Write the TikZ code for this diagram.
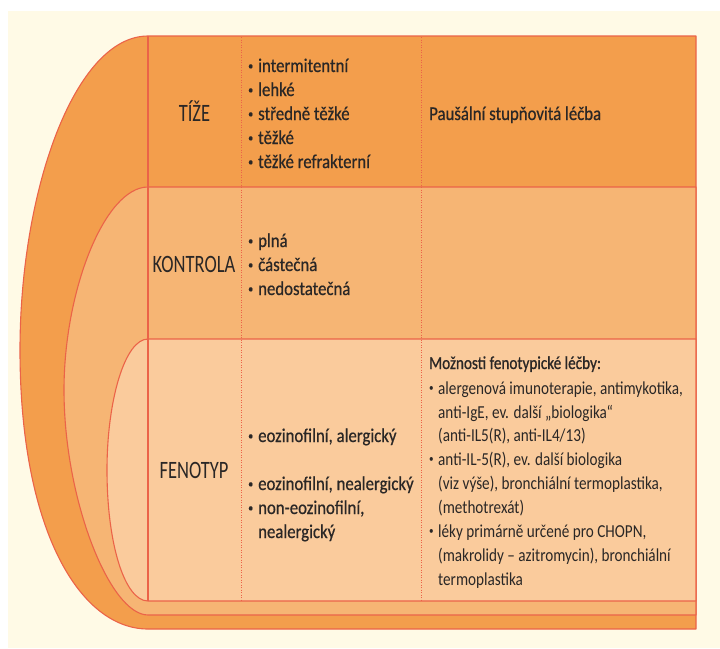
\documentclass[tikz,border=0pt]{standalone}
\usepackage{graphicx}
\usepackage{fontspec}
\setmainfont{Carlito}
\newfontfamily\fmid[FakeStretch=0.86,FakeBold=0.6]{Carlito}
\newfontfamily\fright[FakeStretch=0.83]{Carlito}
\newfontfamily\frightb[FakeStretch=0.83,FakeBold=0.8]{Carlito}
\newfontfamily\flab[FakeStretch=0.74]{Carlito}
\definecolor{cream}{HTML}{FFFAE6}
\definecolor{dark}{HTML}{F39E4C}
\definecolor{midc}{HTML}{F6B574}
\definecolor{light}{HTML}{FACB9C}
\definecolor{bordc}{HTML}{EB6348}
\definecolor{txt}{HTML}{2A2726}
\newcommand\bdot{\raisebox{0.25ex}{\scalebox{0.6}{•}}}
\newcommand\bmid{\makebox[10pt][l]{\bdot}}
\newcommand\brt{\makebox[9pt][l]{\bdot}}
\tikzset{
 band/.style={draw=bordc, line width=1.1pt, line join=round},
 dotln/.style={draw=bordc, line width=0.9pt, dash pattern=on 0.9pt off 1.6pt},
 lab/.style={font=\flab\fontsize{25}{26}\selectfont, text=txt, inner sep=0pt, anchor=base},
 midt/.style={font=\fmid\fontsize{19.5}{24}\selectfont, text=txt, inner sep=0pt, anchor=base west},
 rt/.style={font=\fright\fontsize{18.3}{24}\selectfont, text=txt, inner sep=0pt, anchor=base west},
 rtb/.style={font=\frightb\fontsize{18.3}{24}\selectfont, text=txt, inner sep=0pt, anchor=base west},
}
\begin{document}
\begin{tikzpicture}[x=1pt,y=-1pt]
\useasboundingbox (0,0) rectangle (720,648);
\fill[white] (0,0) rectangle (720,648);
\fill[cream] (8,11) rectangle (720,648);
% bands
\path[band, fill=dark] (696,36) -- (148,36) .. controls (75,36) and (20,190) .. (20,350)
  .. controls (20,530) and (80,629) .. (148,629) -- (696,629) -- cycle;
\path[band, fill=midc] (696,187) -- (148,187) .. controls (105,187) and (64,290) .. (64,390)
  .. controls (64,500) and (110,615) .. (148,615) -- (696,615) -- cycle;
\path[band, fill=light] (696,339) -- (148,339) .. controls (125,339) and (107,400) .. (107,470)
  .. controls (107,545) and (125,601) .. (148,601) -- (696,601) -- cycle;
\coordinate (c1t) at (148,36);
\coordinate (c1b) at (148,601);
\draw[band] (c1t) -- (c1b);
\coordinate (d1t) at (241,37);
\coordinate (d1b) at (241,600);
\coordinate (d2t) at (421,37);
\coordinate (d2b) at (421,600);
\draw[dotln] (d1t) -- (d1b);
\draw[dotln] (d2t) -- (d2b);
% labels
\node[lab] (tize) at (194.5,121) {TÍŽE};
\node[lab] (kontrola) at (194,272) {KONTROLA};
\node[lab] (fenotyp) at (194,478) {FENOTYP};
% row 1
\node[midt] (r1a) at (248,72) {\bmid intermitentní};
\node[midt] (r1b) at (248,96) {\bmid lehké};
\node[midt] (r1c) at (248,120) {\bmid středně těžké};
\node[midt] (r1d) at (248,144) {\bmid těžké};
\node[midt] (r1e) at (248,168) {\bmid těžké refrakterní};
\node[midt] (r1t) at (429,120) {Paušální stupňovitá léčba};
% row 2
\node[midt] (r2a) at (248,247) {\bmid plná};
\node[midt] (r2b) at (248,271) {\bmid částečná};
\node[midt] (r2c) at (248,295) {\bmid nedostatečná};
% row 3
\node[midt] (r3a) at (248,442) {\bmid eozinofilní, alergický};
\node[midt] (r3b) at (248,490) {\bmid eozinofilní, nealergický};
\node[midt] (r3c) at (248,514) {\bmid non-eozinofilní,};
\node[midt] (r3d) at (258,538) {nealergický};
% right column
\node[rtb] (h) at (429,369) {Možnosti fenotypické léčby:};
\node[rt] (t1) at (429,394) {\brt alergenová imunoterapie, antimykotika,};
\node[rt] (t2) at (438,418) {anti-IgE, ev. další „biologika“};
\node[rt] (t3) at (438,441) {(anti-IL5(R), anti-IL4/13)};
\node[rt] (t4) at (429,465) {\brt anti-IL-5(R), ev. další biologika};
\node[rt] (t5) at (438,489) {(viz výše), bronchiální termoplastika,};
\node[rt] (t6) at (438,513) {(methotrexát)};
\node[rt] (t7) at (429,537) {\brt léky primárně určené pro CHOPN,};
\node[rt] (t8) at (438,561) {(makrolidy – azitromycin), bronchiální};
\node[rt] (t9) at (438,585) {termoplastika};
\end{tikzpicture}
\end{document}
